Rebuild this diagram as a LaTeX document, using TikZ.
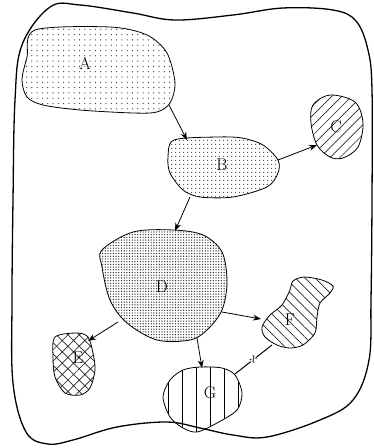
\documentclass[tikz,border=0pt]{standalone}
\usetikzlibrary{patterns.meta,arrows.meta}
\begin{document}
\begin{tikzpicture}[x=1pt,y=-1pt,
  blob/.style={draw=black, line width=0.8pt},
  lbl/.style={font=\fontsize{17}{19}\selectfont, inner sep=0pt},
  conn/.style={line width=0.8pt, -{Stealth[length=8pt,width=6pt]}},
  dotsA/.style={pattern={Dots[distance=5.3pt,radius=0.65pt]}, pattern color=black!75},
  dotsB/.style={pattern={Dots[distance=4pt,radius=0.65pt]}, pattern color=black!75},
  dotsD/.style={pattern={Dots[distance=2.7pt,radius=0.7pt]}, pattern color=black!80},
  hatchNE/.style={pattern={Lines[angle=45,distance=7pt,line width=0.7pt]}, pattern color=black!85},
  hatchNW/.style={pattern={Lines[angle=-45,distance=7pt,line width=0.7pt]}, pattern color=black!85},
  cross/.style={pattern={Hatch[angle=45,distance=8pt,line width=0.7pt]}, pattern color=black!85},
  vert/.style={pattern={Lines[angle=90,distance=14pt,line width=0.9pt]}, pattern color=black}]
\useasboundingbox (0,0) rectangle (373,448);
% outer boundary
\draw[line width=1.3pt] plot[smooth cycle, tension=0.6] coordinates {
 (15,100) (22,45) (50,7) (80,5) (133,13) (175,20) (233,15) (283,8) (333,10)
 (356,21) (368,50) (372,90) (372,200) (371,300) (369,360) (353,400) (320,420)
 (267,437) (233,435) (200,428) (167,422) (117,427) (73,440) (48,444) (26,432)
 (13,383) (12,300) (13,200)};
% A
\draw[blob,dotsA] plot[smooth cycle, tension=0.5] coordinates {
 (35,30) (110,27) (147,35) (167,53) (175,83) (170,103) (157,112) (133,113)
 (80,110) (43,105) (27,97) (22,80) (27,57)};
\node[lbl] (A) at (85,63) {A};
% B
\draw[blob,dotsB] plot[smooth cycle, tension=0.5] coordinates {
 (174,140) (217,137) (242,138) (263,145) (278,160) (278,173) (267,187) (233,197)
 (200,197) (183,190) (170,173) (168,157)};
\node[lbl] (B) at (222,165) {B};
% C
\draw[blob,hatchNE] plot[smooth cycle, tension=0.55] coordinates {
 (313,105) (330,95) (355,102) (363,123) (358,147) (343,158) (330,157) (317,145) (311,123)};
\node[lbl] (C) at (336,127) {C};
% D
\draw[blob,dotsD] plot[smooth cycle, tension=0.55] coordinates {
 (102,250) (133,232) (173,230) (203,235) (222,252) (227,282) (222,310) (207,330)
 (190,340) (157,340) (127,323) (110,300) (102,267)};
\node[lbl] (D) at (162,287) {D};
% E
\draw[blob,cross] plot[smooth cycle, tension=0.5] coordinates {
 (55,337) (77,333) (88,337) (93,353) (95,370) (90,388) (80,395) (65,393) (55,377) (53,357)};
\node[lbl] (E) at (78,358) {E};
% F
\draw[blob,hatchNW] plot[smooth cycle, tension=0.5] coordinates {
 (262,327) (270,315) (282,305) (290,290) (293,281) (304,277) (322,280) (333,286)
 (330,293) (320,303) (317,317) (315,333) (303,345) (290,348) (277,345) (265,337)};
\node[lbl] (F) at (290,320) {F};
% G
\draw[blob,vert] plot[smooth cycle, tension=0.5] coordinates {
 (200,367) (222,368) (235,375) (242,393) (237,410) (217,423) (197,432) (183,428)
 (170,417) (163,397) (170,380) (183,370)};
\node[lbl] (G) at (210,393) {G};
% connector end points
\coordinate (a1) at (169,105);
\coordinate (b0) at (187,140);
\coordinate (b1) at (278,160);
\coordinate (c0) at (317,145);
\coordinate (b2) at (190,197);
\coordinate (d0) at (175,231);
\coordinate (d1) at (118,322);
\coordinate (e0) at (88,341);
\coordinate (d2) at (222,312);
\coordinate (f0) at (261,319);
\coordinate (d3) at (197,338);
\coordinate (g0) at (202,368);
\coordinate (g1) at (235,374);
\coordinate (f1) at (272,345);
\draw[conn] (a1) -- (b0);
\draw[conn] (b1) -- (c0);
\draw[conn] (b2) -- (d0);
\draw[conn] (d1) -- (e0);
\draw[conn] (d2) -- (f0);
\draw[conn] (d3) -- (g0);
\draw[line width=1pt] (g1) -- (f1);
\node[sloped, fill=white, inner sep=0.5pt, font=\fontsize{13}{14}\selectfont, rotate=-38] (x) at (253.5,359.5) {x};
\end{tikzpicture}
\end{document}
